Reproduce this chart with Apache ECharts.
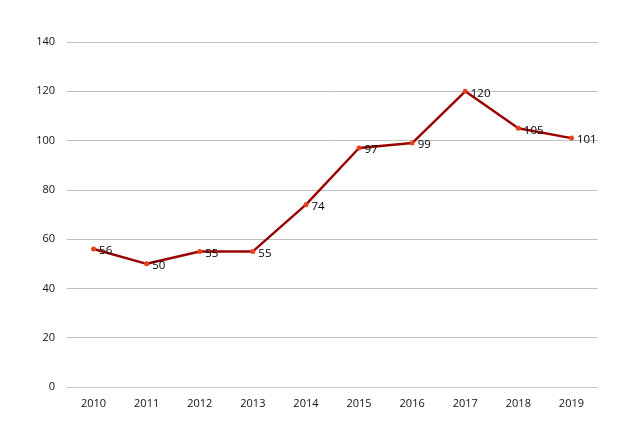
<!DOCTYPE html>
<html><head><meta charset="utf-8">
<script src="https://cdn.jsdelivr.net/npm/echarts@6/dist/echarts.min.js"></script>
<style>html,body{margin:0;padding:0;background:#fff}#c{width:620px;height:422px}</style>
</head><body><div id="c"></div>
<script>
const categories = ['2010','2011','2012','2013','2014','2015','2016','2017','2018','2019'];
const values = [56, 50, 55, 55, 74, 97, 99, 120, 105, 101];
const yTicks = [0, 20, 40, 60, 80, 100, 120, 140];

const chart = echarts.init(document.getElementById('c'));
const font = 'Open Sans, Noto Sans, sans-serif';
chart.setOption({
  animation: false,
  grid: { left: 67, right: 22, top: 42, bottom: 35, containLabel: false },
  xAxis: {
    type: 'category', data: categories, boundaryGap: true,
    axisLine: { lineStyle: { color: '#c8c8c8' } },
    axisTick: { show: false },
    axisLabel: { color: '#111', fontSize: 11, fontFamily: font, margin: 11 }
  },
  yAxis: {
    type: 'value', min: yTicks[0], max: yTicks[yTicks.length - 1], interval: 20,
    axisLine: { show: false }, axisTick: { show: false },
    axisLabel: { color: '#111', fontSize: 11, fontFamily: font, margin: 12 },
    splitLine: { lineStyle: { color: '#c0c0c0', width: 1 } }
  },
  series: [{
    type: 'line', data: values,
    lineStyle: { color: '#990000', width: 2.4 },
    itemStyle: { color: '#E8401A' },
    symbol: 'circle', symbolSize: 5,
    label: { show: true, position: 'right', offset: [0, 2], distance: 3, color: '#000', fontSize: 11.5, fontFamily: font }
  }]
});
</script></body></html>
